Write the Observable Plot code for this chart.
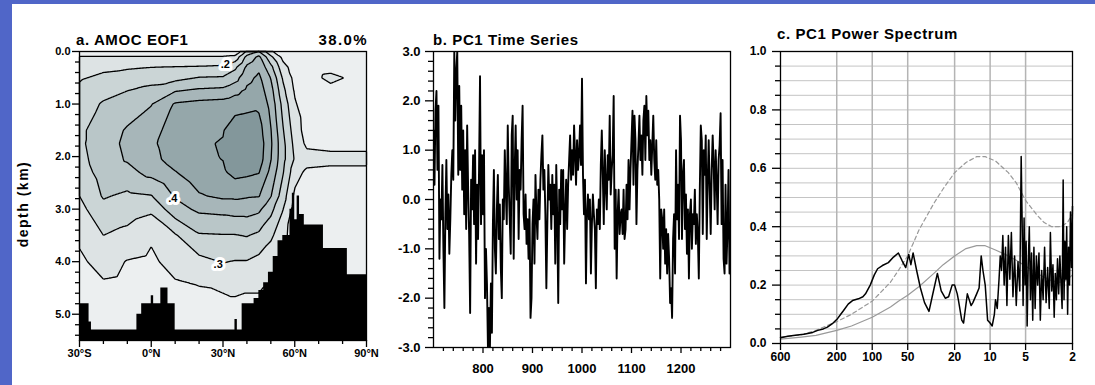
<!DOCTYPE html>
<html>
<head>
<meta charset="utf-8">
<script src="https://cdn.jsdelivr.net/npm/d3@7"></script>
<script src="https://cdn.jsdelivr.net/npm/@observablehq/plot@0.6"></script>
<style>
  html, body { margin: 0; padding: 0; }
  body { width: 1095px; height: 385px; background: #5066c8; position: relative; overflow: hidden;
         font-family: "Liberation Sans", Arial, Helvetica, sans-serif; }
  #sheet { position: absolute; left: 12px; top: 4px; right: 0; bottom: 0; background: #fff; }
  .panel { position: absolute; top: 0; }
  .ttl { position: absolute; font-weight: bold; font-size: 15px; line-height: 14px; color: #000; white-space: nowrap; letter-spacing: 0.6px; }
</style>
</head>
<body>
<div id="sheet"></div>
<div id="pa" class="panel" style="left:0px"></div>
<div id="pb" class="panel" style="left:372px"></div>
<div id="pc" class="panel" style="left:744px"></div>
<div class="ttl" style="left:76px; top:33px;">a. AMOC EOF1</div>
<div class="ttl" style="left:302px; top:33px; width:66px; text-align:right; letter-spacing:1.4px;">38.0%</div>
<div class="ttl" style="left:433px; top:33px;">b. PC1 Time Series</div>
<div class="ttl" style="left:777px; top:27px;">c. PC1 Power Spectrum</div>
<div class="ttl" style="left:-27px; top:197px; width:100px; text-align:center; font-size:14px; letter-spacing:1.5px; transform:rotate(-90deg);">depth (km)</div>
<script>
// ---------------- Panel a: AMOC EOF1 (latitude x depth) ----------------
const gridLat = [-30, -20, -10, 0, 10, 20, 30, 35, 40, 45, 50, 55, 60, 65, 75, 90];
const gridDepth = [0, 0.1, 0.3, 0.5, 0.75, 1, 1.5, 1.75, 2.05, 2.3, 2.75, 3, 3.5, 4, 4.5, 5, 5.5];
// one column of EOF values (top to bottom, at gridDepth) per latitude in gridLat
const eofColumns = [
  [0.00,0.11,0.15,0.19,0.22,0.25,0.28,0.28,0.27,0.25,0.20,0.17,0.12,0.08,0.06,0.05,0.05],
  [0.00,0.11,0.18,0.22,0.27,0.31,0.35,0.36,0.35,0.34,0.31,0.27,0.20,0.14,0.08,0.06,0.05],
  [0.00,0.11,0.19,0.24,0.30,0.35,0.41,0.42,0.41,0.37,0.28,0.25,0.17,0.095,0.07,0.06,0.05],
  [0.00,0.11,0.20,0.26,0.33,0.395,0.46,0.48,0.47,0.43,0.295,0.22,0.115,0.08,0.07,0.06,0.05],
  [0.00,0.11,0.205,0.27,0.395,0.51,0.55,0.56,0.54,0.495,0.41,0.36,0.19,0.14,0.08,0.07,0.06],
  [0.00,0.11,0.21,0.305,0.42,0.53,0.58,0.59,0.58,0.56,0.49,0.42,0.29,0.17,0.095,0.08,0.07],
  [0.00,0.11,0.22,0.31,0.43,0.54,0.595,0.605,0.602,0.585,0.52,0.43,0.295,0.205,0.105,0.08,0.07],
  [0.00,0.13,0.28,0.36,0.47,0.56,0.65,0.67,0.66,0.63,0.52,0.44,0.295,0.195,0.11,0.08,0.07],
  [0.22,0.33,0.42,0.47,0.52,0.57,0.66,0.69,0.67,0.62,0.51,0.44,0.305,0.195,0.105,0.08,0.07],
  [0.30,0.42,0.48,0.52,0.55,0.58,0.64,0.66,0.65,0.605,0.505,0.42,0.28,0.17,0.105,0.08,0.07],
  [0.12,0.22,0.33,0.395,0.44,0.47,0.505,0.515,0.505,0.47,0.405,0.33,0.22,0.13,0.09,0.08,0.07],
  [0.02,0.07,0.14,0.19,0.23,0.27,0.31,0.33,0.33,0.31,0.25,0.205,0.13,0.09,0.08,0.07,0.07],
  [0.02,0.03,0.05,0.07,0.09,0.11,0.15,0.17,0.19,0.14,0.08,0.06,0.05,0.05,0.05,0.05,0.05],
  [0.03,0.03,0.04,0.05,0.05,0.05,0.06,0.08,0.14,0.08,0.05,0.05,0.05,0.05,0.05,0.05,0.05],
  [0.03,0.04,0.06,0.13,0.06,0.05,0.05,0.07,0.13,0.07,0.05,0.05,0.05,0.05,0.05,0.05,0.05],
  [0.03,0.03,0.04,0.05,0.05,0.05,0.05,0.07,0.13,0.07,0.05,0.05,0.05,0.05,0.05,0.05,0.05]
];
const fillLevels = [0, 0.1, 0.2, 0.3, 0.4, 0.5, 0.6];
const lineLevels = [0.1, 0.2, 0.3, 0.4, 0.5, 0.6];
const eofShades = ["#eceff0", "#dde3e4", "#cbd5d6", "#b9c6c8", "#a7b6b9", "#95a7aa", "#83979b"];
// ocean floor (black), step profile
const bathyLat   = [-30, -26, -25, -6, -4, 0, 1, 4, 7, 10, 35, 36, 38, 43, 45, 47, 49, 51, 53, 55, 58, 59, 60, 61, 62, 64, 72, 82, 90];
const bathyDepth = [4.8, 5.15, 5.3, 5.0, 4.8, 4.65, 4.8, 4.5, 4.8, 5.3, 5.1, 5.3, 4.8, 4.7, 4.55, 4.4, 4.2, 3.9, 3.6, 3.5, 3.0, 2.7, 3.2, 2.75, 3.1, 3.3, 3.75, 4.25, 4.25];
const labelLat   = [31, 9, 28];
const labelDepth = [0.25, 2.8, 4.05];
const labelText  = [".2", ".4", ".3"];
const latMajor = [-30, 0, 30, 60, 90];
const latMinor = [-20, -10, 10, 20, 40, 50, 70, 80];
const depthMajor = [0, 1, 2, 3, 4, 5];
const depthMinor = [0.2,0.4,0.6,0.8,1.2,1.4,1.6,1.8,2.2,2.4,2.6,2.8,3.2,3.4,3.6,3.8,4.2,4.4,4.6,4.8,5.2,5.4];

// ---------------- Panel b: PC1 time series (every 2 years, 700-1300) ----------------
const pcStart = 700, pcStep = 2;
const pcValues = [
  1.4, 0.3, 1.8, 2.2, 0.6, 1.9, -1.2, 0.0, -0.4, 0.7,
  -1.0, -2.2, -0.3, 0.8, -0.6, 0.1, -1.1, -0.4, 0.5, 1.0,
  0.4, 3.0, 1.6, 2.6, 3.0, 0.5, 2.3, 0.6, 1.9, 0.2,
  1.4, -0.3, 1.0, -0.6, 1.5, 0.2, -0.7, -2.3, 0.4, -0.2,
  0.9, -0.5, 1.0, -1.3, 0.3, -0.8, 0.6, 2.5, -0.5, 0.9,
  -0.3, 1.0, -2.0, -1.0, -1.7, -3.0, -2.2, -3.0, -1.7, -2.7,
  -0.5, 0.6, -1.0, -1.5, -0.2, 0.5, -0.8, -0.1, -1.4, -2.0,
  0.0, -0.4, 1.0, 0.2, -0.5, 1.5, 0.3, -0.4, -1.1, 1.3,
  1.7, -1.2, 0.6, 1.5, 0.0, 1.0, -0.8, 0.6, 0.2, 1.2,
  1.9, -0.3, -0.6, 0.1, -0.9, -0.4, -1.2, -0.2, -2.4, -2.0,
  -0.5, 0.0, -1.3, 0.5, -0.3, -0.8, 0.2, -0.4, 0.4, 0.9,
  1.3, 0.2, 0.6, -0.3, -1.8, -0.5, 0.7, 0.0, 0.3, -0.6,
  0.5, -0.3, 0.3, -1.3, 0.7, -0.4, -2.1, 0.2, -0.5, 0.6,
  -0.2, 0.6, -1.3, -0.3, 0.4, -0.6, 0.3, 0.8, 1.3, 0.4,
  1.0, 0.5, 1.5, 0.9, 0.3, 1.2, 0.6, 0.9, 1.5, 0.7,
  2.45, 0.5, -0.3, 0.4, -1.7, -0.3, 0.1, -0.4, 0.0, -1.5,
  -0.5, 0.1, -0.3, -0.6, -1.8, -0.2, -0.5, 0.0, -0.6, 0.7,
  1.4, 0.5, -0.5, 1.0, 0.3, -0.2, 0.9, 0.4, 1.7, 0.1,
  0.6, 0.9, 2.1, -1.0, 0.2, -1.6, -0.3, 0.2, -0.7, -0.3,
  -0.2, -0.7, 0.2, -0.8, -0.6, 0.3, -0.4, 0.8, -0.2, 0.6,
  1.2, 1.8, 0.3, 1.7, 1.2, -0.5, 0.6, 1.1, 1.7, 0.8,
  1.3, 0.5, 1.6, 1.9, 0.8, 2.1, 1.3, 1.8, 0.8, 1.2,
  0.5, 1.1, 1.7, 0.8, 0.4, 1.2, 0.3, 0.6, 0.0, -1.6,
  -0.2, -0.4, -1.0, -0.2, -1.3, -0.6, -1.5, -0.7, -1.2, -2.1,
  -1.8, -2.4, -0.8, -0.3, -1.5, 1.0, -0.4, 0.3, -0.8, 1.7,
  1.2, -0.8, 0.5, 0.8, -0.6, 0.1, -1.1, -0.2, -1.6, -0.3,
  0.0, -1.0, -0.3, -0.5, 0.2, -0.9, -0.3, -0.7, -1.6, 0.2,
  1.5, 1.2, -0.7, 1.0, 0.5, 1.3, -0.8, 0.4, 1.2, 0.2,
  -0.7, 0.6, 1.3, 0.7, -0.2, 1.0, 0.4, -0.5, 0.8, 1.1,
  1.75, -0.5, 0.8, -1.2, -1.5, 0.3, -1.3, -0.6, 0.6, -1.5,
  -0.8
];
const yearMajor = [800, 900, 1000, 1100, 1200];
const yearMinor = [720,740,760,780,820,840,860,880,920,940,960,980,1020,1040,1060,1080,1120,1140,1160,1180,1220,1240,1260,1280];
const pcMajor = [-3, -2, -1, 0, 1, 2, 3];
const pcMinor = [-2.8,-2.6,-2.4,-2.2,-1.8,-1.6,-1.4,-1.2,-0.8,-0.6,-0.4,-0.2,0.2,0.4,0.6,0.8,1.2,1.4,1.6,1.8,2.2,2.4,2.6,2.8];

// ---------------- Panel c: PC1 power spectrum vs period (years) ----------------
const specPeriod = [600,520,450,380,320,290,260,240,215,197,185,175,160,147,131,120,114,104,96,90,82,73,66,60,56,52,49,47,45,42,39,36,33,31,28,26,24,22.5,21,20,19,18.6,17.4,16.8,15.6,14.5,14,13,12.4,11.9,11.5,11,10.5,10,9.6,9.2,9.0,8.7,8.4,8.2,8.0,7.8,7.6,7.4,7.2,7.0,6.8,6.6,6.4,6.2,6.0,5.8,5.6,5.45,5.35,5.25,5.15,5.05,4.95,4.85,4.75,4.65,4.55,4.45,4.35,4.25,4.15,4.05,3.95,3.85,3.75,3.65,3.55,3.45,3.35,3.25,3.15,3.08,3.0,2.93,2.86,2.8,2.74,2.68,2.62,2.56,2.5,2.45,2.4,2.36,2.32,2.28,2.24,2.2,2.16,2.12,2.08,2.04,2.0];
const specPower  = [0.02,0.025,0.028,0.032,0.038,0.045,0.05,0.056,0.07,0.085,0.1,0.113,0.135,0.147,0.153,0.16,0.17,0.2,0.235,0.256,0.267,0.277,0.296,0.31,0.285,0.26,0.305,0.27,0.31,0.25,0.19,0.14,0.11,0.16,0.24,0.18,0.155,0.16,0.2,0.2,0.17,0.15,0.08,0.07,0.17,0.13,0.14,0.17,0.19,0.3,0.25,0.2,0.08,0.07,0.06,0.1,0.15,0.12,0.22,0.3,0.25,0.37,0.2,0.33,0.13,0.37,0.22,0.38,0.16,0.3,0.13,0.28,0.18,0.64,0.42,0.13,0.43,0.2,0.35,0.06,0.27,0.4,0.15,0.31,0.08,0.33,0.12,0.3,0.2,0.31,0.08,0.25,0.15,0.33,0.14,0.26,0.12,0.38,0.18,0.27,0.09,0.24,0.15,0.29,0.17,0.3,0.2,0.12,0.56,0.15,0.35,0.22,0.4,0.1,0.33,0.2,0.45,0.26,0.47];
const noisePeriod = [600,400,300,200,150,100,70,60,50,40,30,25,20,16,13,11,9,7,6,5,4,3.5,3,2.6,2.4,2.2,2];
const noiseLower  = [0.015,0.022,0.028,0.045,0.06,0.09,0.125,0.145,0.165,0.195,0.24,0.27,0.3,0.325,0.335,0.335,0.32,0.3,0.285,0.265,0.24,0.228,0.215,0.21,0.21,0.22,0.235];
const noiseUpper  = [0.022,0.03,0.045,0.075,0.1,0.145,0.21,0.25,0.3,0.39,0.48,0.53,0.585,0.62,0.64,0.64,0.625,0.585,0.55,0.49,0.44,0.415,0.4,0.4,0.405,0.415,0.445];
const periodTicks = [600, 200, 100, 50, 20, 10, 5, 2];
const periodGrid = [200, 100, 50, 20, 10, 5];
const powerMajor = [0, 0.2, 0.4, 0.6, 0.8, 1.0];
const powerMinor = [0.05,0.1,0.15,0.25,0.3,0.35,0.45,0.5,0.55,0.65,0.7,0.75,0.85,0.9,0.95];
const powerGrid  = [0.05,0.1,0.15,0.2,0.25,0.3,0.35,0.4,0.45,0.5,0.55,0.6,0.65,0.7,0.75,0.8,0.85,0.9,0.95];

// ---------------- build tables ----------------
const eofPoints = [];
gridLat.forEach((lat, i) => gridDepth.forEach((depth, j) => eofPoints.push({lat, depth, v: eofColumns[i][j]})));
const bathy = bathyLat.map((lat, i) => ({lat, depth: bathyDepth[i]}));
const eofLabels = labelLat.map((lat, i) => ({lat, depth: labelDepth[i], text: labelText[i]}));
const pcData = pcValues.map((v, i) => ({year: pcStart + i * pcStep, pc: v}));
const lg = Math.log10;
const spec = specPeriod.map((p, i) => ({lp: lg(p), v: specPower[i]}));
const lower = noisePeriod.map((p, i) => ({lp: lg(p), v: noiseLower[i]}));
const upper = noisePeriod.map((p, i) => ({lp: lg(p), v: noiseUpper[i]}));

const font = "'Liberation Sans', Arial, Helvetica, sans-serif";
const fmt1 = d => d.toFixed(1);
const blank = () => "";
const latFmt = d => d < 0 ? `${-d}°S` : `${d}°N`;
const tw = 1.3; // tick stroke width

const pa = Plot.plot({
  width: 372, height: 385,
  marginLeft: 79, marginRight: 6, marginTop: 51, marginBottom: 45,
  style: {fontFamily: font, fontWeight: "bold", fontSize: "11px", background: "transparent", overflow: "visible"},
  x: {domain: [-30, 90]},
  y: {domain: [0, 5.5], reverse: true},
  color: {type: "ordinal", domain: fillLevels, range: eofShades},
  marks: [
    Plot.contour(eofPoints, {x: "lat", y: "depth", fill: "v", thresholds: fillLevels, interpolate: "barycentric", pixelSize: 1}),
    Plot.contour(eofPoints, {x: "lat", y: "depth", value: "v", thresholds: lineLevels, interpolate: "barycentric", pixelSize: 1, stroke: "black", strokeWidth: 1.3, fill: "none"}),
    Plot.areaY(bathy, {x: "lat", y1: "depth", y2: () => 5.5, curve: "step-after", fill: "black"}),
    Plot.text(eofLabels, {x: "lat", y: "depth", text: "text", fill: "black", stroke: "white", strokeWidth: 6, fontSize: 11}),
    Plot.frame({stroke: "black", strokeWidth: 1.3}),
    Plot.axisX(latMajor, {anchor: "bottom", tickSize: 7, tickPadding: 2, strokeWidth: tw, tickFormat: latFmt, label: null}),
    Plot.axisX(latMinor, {anchor: "bottom", tickSize: 4, strokeWidth: tw, tickFormat: blank, label: null}),
    Plot.axisY(depthMajor, {anchor: "left", tickSize: 7, tickPadding: 2, strokeWidth: tw, tickFormat: fmt1, label: null}),
    Plot.axisY(depthMinor, {anchor: "left", tickSize: 4, strokeWidth: tw, tickFormat: blank, label: null})
  ]
});
document.getElementById("pa").append(pa);

const pb = Plot.plot({
  width: 372, height: 385,
  marginLeft: 61, marginRight: 14, marginTop: 51, marginBottom: 38,
  style: {fontFamily: font, fontWeight: "bold", fontSize: "13px", background: "transparent", overflow: "visible"},
  x: {domain: [700, 1300]},
  y: {domain: [-3, 3]},
  marks: [
    Plot.line(pcData, {x: "year", y: "pc", stroke: "black", strokeWidth: 1.9, clip: true}),
    Plot.frame({stroke: "black", strokeWidth: 1.3}),
    Plot.axisX(yearMajor, {anchor: "bottom", tickSize: 6, tickPadding: 10, strokeWidth: tw, tickFormat: d => String(d), label: null}),
    Plot.axisX(yearMinor, {anchor: "bottom", tickSize: 4, strokeWidth: tw, tickFormat: blank, label: null}),
    Plot.axisY(pcMajor, {anchor: "left", tickSize: 8, tickPadding: 5, strokeWidth: tw, tickFormat: fmt1, label: null}),
    Plot.axisY(pcMinor, {anchor: "left", tickSize: 5, strokeWidth: tw, tickFormat: blank, label: null})
  ]
});
document.getElementById("pb").append(pb);

// x position is log10(period), shown reversed (long periods on the left)
const pc = Plot.plot({
  width: 351, height: 385,
  marginLeft: 36, marginRight: 23, marginTop: 51, marginBottom: 42,
  style: {fontFamily: font, fontWeight: "bold", fontSize: "12px", background: "transparent", overflow: "visible"},
  x: {domain: [lg(2), lg(600)], reverse: true},
  y: {domain: [0, 1]},
  marks: [
    Plot.ruleY(powerGrid, {stroke: "#c4c4c4", strokeWidth: 1}),
    Plot.axisX(periodGrid.map(lg), {anchor: "bottom", tickSize: 292, tickPadding: 0, stroke: "#b4b4b4", strokeWidth: 1.5, dy: -292, tickFormat: blank, label: null}),
    Plot.line(lower, {x: "lp", y: "v", stroke: "#999999", strokeWidth: 1.2}),
    Plot.line(upper, {x: "lp", y: "v", stroke: "#999999", strokeWidth: 1.2, strokeDasharray: "4,3"}),
    Plot.line(spec, {x: "lp", y: "v", stroke: "black", strokeWidth: 1.5}),
    Plot.frame({stroke: "black", strokeWidth: 1.3}),
    Plot.axisX(periodTicks.map(lg), {anchor: "bottom", tickSize: 7, tickPadding: 2, strokeWidth: tw, tickFormat: d => String(Math.round(10 ** d)), label: null}),
    Plot.axisY(powerMajor, {anchor: "left", tickSize: 8, tickPadding: 6, strokeWidth: tw, tickFormat: fmt1, label: null}),
    Plot.axisY(powerMinor, {anchor: "left", tickSize: 5, strokeWidth: tw, tickFormat: blank, label: null})
  ]
});
document.getElementById("pc").append(pc);
</script>
</body>
</html>
